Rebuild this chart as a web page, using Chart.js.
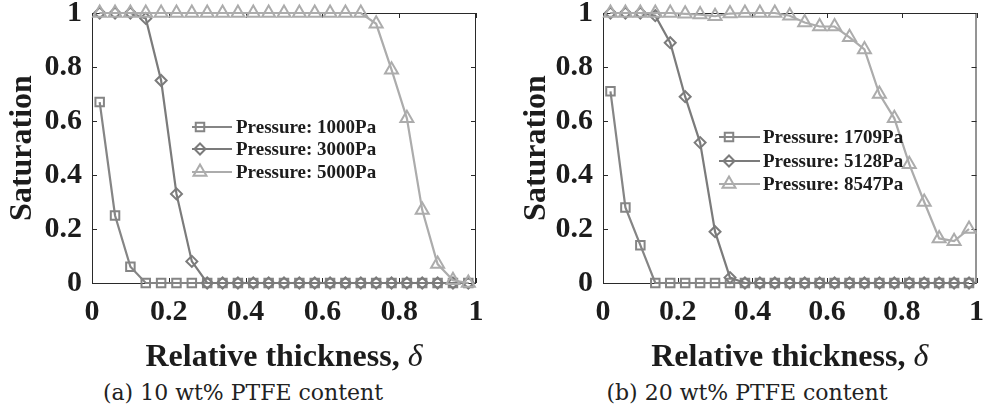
<!DOCTYPE html>
<html>
<head>
<meta charset="utf-8">
<script src="https://cdn.jsdelivr.net/npm/chart.js@4.4.0/dist/chart.umd.min.js"></script>
<style>
body { margin: 0; background: #fff; width: 995px; height: 415px; position: relative; overflow: hidden; }
.panel { position: absolute; top: 0; height: 375px; }
#leftBox { left: 0; width: 497px; }
#rightBox { left: 497px; width: 498px; }
.cap { position: absolute; top: 380px; font-family: "DejaVu Serif"; font-size: 22px; color: #222; white-space: nowrap; transform: translateX(-50%); }
</style>
</head>
<body>
<div class="panel" id="leftBox"><canvas id="chartA" width="497" height="375"></canvas></div>
<div class="panel" id="rightBox"><canvas id="chartB" width="498" height="375"></canvas></div>
<div class="cap" style="left:243px">(a) 10 wt% PTFE content</div>
<div class="cap" style="left:747px">(b) 20 wt% PTFE content</div>
<script>
// relative thickness positions (same for both panels)
const xValues = [0.02, 0.06, 0.10, 0.14, 0.18, 0.22, 0.26, 0.30, 0.34, 0.38, 0.42, 0.46, 0.50,
                 0.54, 0.58, 0.62, 0.66, 0.70, 0.74, 0.78, 0.82, 0.86, 0.90, 0.94, 0.98];
const xTicks = [0, 0.2, 0.4, 0.6, 0.8, 1];
const xTickLabels = ['0', '0.2', '0.4', '0.6', '0.8', '1'];
const yTicks = [0, 0.2, 0.4, 0.6, 0.8, 1];
const yTickLabels = ['0', '0.2', '0.4', '0.6', '0.8', '1'];

// (a) 10 wt% PTFE
const namesA = ['Pressure: 1000Pa', 'Pressure: 3000Pa', 'Pressure: 5000Pa'];
const p1000 = [0.67, 0.25, 0.06, 0, 0, 0, 0, 0, 0, 0, 0, 0, 0, 0, 0, 0, 0, 0, 0, 0, 0, 0, 0, 0, 0];
const p3000 = [1, 1, 1, 0.98, 0.75, 0.33, 0.08, 0, 0, 0, 0, 0, 0, 0, 0, 0, 0, 0, 0, 0, 0, 0, 0, 0, 0];
const p5000 = [1, 1, 1, 1, 1, 1, 1, 1, 1, 1, 1, 1, 1, 1, 1, 1, 1, 1, 0.96, 0.79, 0.61, 0.27, 0.07, 0.01, 0];

// (b) 20 wt% PTFE
const namesB = ['Pressure: 1709Pa', 'Pressure: 5128Pa', 'Pressure: 8547Pa'];
const p1709 = [0.71, 0.28, 0.14, 0, 0, 0, 0, 0, 0, 0, 0, 0, 0, 0, 0, 0, 0, 0, 0, 0, 0, 0, 0, 0, 0];
const p5128 = [1, 1, 1, 0.99, 0.89, 0.69, 0.52, 0.19, 0.02, 0, 0, 0, 0, 0, 0, 0, 0, 0, 0, 0, 0, 0, 0, 0, 0];
const p8547 = [1, 1, 1, 1, 1, 0.997, 0.994, 0.988, 0.998, 1, 1, 1, 0.99, 0.965, 0.95, 0.95, 0.91, 0.865,
               0.70, 0.61, 0.44, 0.30, 0.165, 0.155, 0.20];

const colors = ['#858585', '#7b7b7b', '#acacac'];
const shapes = ['rect', 'rectRot', 'triangle'];
const radii = [6, 5.5, 7.5];
const serif = 'Liberation Serif';
const ink = '#1c1c1c';

function toPoints(ys) {
    return ys.map((y, i) => ({ x: xValues[i], y: y }));
}

// box with inward ticks, like the matlab axes
const framePlugin = {
    id: 'frame',
    beforeDatasetsDraw(chart) {
        const a = chart.chartArea, ctx = chart.ctx;
        const xs = chart.scales.x, ys = chart.scales.y;
        ctx.save();
        ctx.strokeStyle = '#2a2a2a';
        ctx.lineWidth = 1;
        ctx.strokeRect(a.left + 0.5, a.top + 0.5, a.right - a.left - 1, a.bottom - a.top);
        ctx.beginPath();
        xTicks.forEach(v => {
            const px = Math.round(xs.getPixelForValue(v)) + 0.5;
            ctx.moveTo(px, a.bottom); ctx.lineTo(px, a.bottom - 5);
            ctx.moveTo(px, a.top); ctx.lineTo(px, a.top + 5);
        });
        yTicks.forEach(v => {
            const py = Math.round(ys.getPixelForValue(v)) + 0.5;
            ctx.moveTo(a.left, py); ctx.lineTo(a.left + 5, py);
            ctx.moveTo(a.right, py); ctx.lineTo(a.right - 5, py);
        });
        ctx.stroke();
        ctx.restore();
    }
};

// legend inside the plot + x title with italic delta
const extrasPlugin = {
    id: 'extras',
    afterDraw(chart, args, opts) {
        const ctx = chart.ctx, a = chart.chartArea;
        ctx.save();
        chart.data.datasets.forEach((ds, i) => {
            const y = opts.rows[i];
            ctx.strokeStyle = ds.borderColor;
            ctx.lineWidth = 2.2;
            ctx.beginPath();
            ctx.moveTo(opts.line[0], y); ctx.lineTo(opts.line[1], y);
            ctx.stroke();
            ctx.fillStyle = 'rgba(0,0,0,0)';
            ctx.lineWidth = 2;
            Chart.helpers.drawPoint(ctx, { pointStyle: ds.pointStyle, radius: ds.pointRadius, borderWidth: 2 }, opts.marker, y);
            ctx.fillStyle = ink;
            ctx.font = 'bold 19px "' + serif + '"';
            ctx.textAlign = 'left';
            ctx.textBaseline = 'middle';
            ctx.fillText(ds.label, opts.text, y + 1);
        });

        const t1 = 'Relative thickness, ';
        const t2 = 'δ';
        const f1 = 'bold 32px "' + serif + '"';
        const f2 = 'italic 32px "' + serif + '"';
        ctx.font = f1; const w1 = ctx.measureText(t1).width;
        ctx.font = f2; const w2 = ctx.measureText(t2).width;
        const cx = (a.left + a.right) / 2;
        const x0 = cx - (w1 + w2) / 2;
        ctx.fillStyle = ink;
        ctx.textAlign = 'left';
        ctx.textBaseline = 'alphabetic';
        ctx.font = f1; ctx.fillText(t1, x0, 366);
        ctx.font = f2; ctx.fillText(t2, x0 + w1, 366);
        ctx.restore();
    }
};

function makeChart(id, series, names, yWidth, titlePad, rightPad, legendOpts) {
    const datasets = series.map((ys, i) => ({
        label: names[i],
        data: toPoints(ys),
        borderColor: colors[i],
        backgroundColor: 'transparent',
        pointBackgroundColor: 'transparent',
        pointBorderColor: colors[i],
        pointStyle: shapes[i],
        pointRadius: radii[i],
        pointBorderWidth: 2,
        borderWidth: 2.2,
        order: 3 - i,
        clip: false
    }));

    return new Chart(document.getElementById(id).getContext('2d'), {
        type: 'line',
        data: { datasets: datasets },
        options: {
            responsive: false,
            animation: false,
            layout: { padding: { top: 13, right: rightPad, left: 0, bottom: 0 } },
            plugins: {
                legend: { display: false },
                tooltip: { enabled: false },
                extras: legendOpts
            },
            scales: {
                x: {
                    type: 'linear', min: 0, max: 1,
                    afterBuildTicks: s => { s.ticks = xTicks.map(v => ({ value: v })); },
                    afterFit: s => { s.height = 92; },
                    grid: { display: false, drawTicks: false },
                    border: { display: false },
                    ticks: {
                        autoSkip: false, maxRotation: 0, padding: 11, color: ink,
                        font: { family: serif, size: 30, weight: 'bold' },
                        callback: (v, i) => xTickLabels[i]
                    }
                },
                y: {
                    type: 'linear', min: 0, max: 1,
                    afterBuildTicks: s => { s.ticks = yTicks.map(v => ({ value: v })); },
                    afterFit: s => { s.width = yWidth; s.paddingTop = 0; s.paddingBottom = 0; },
                    grid: { display: false, drawTicks: false },
                    border: { display: false },
                    ticks: {
                        padding: 10, color: ink,
                        font: { family: serif, size: 30, weight: 'bold', lineHeight: 0.1 },
                        callback: (v, i) => yTickLabels[i]
                    },
                    title: {
                        display: true, text: 'Saturation', color: ink,
                        font: { family: serif, size: 32, weight: 'bold' },
                        padding: { top: titlePad, bottom: 0 }
                    }
                }
            }
        },
        plugins: [framePlugin, extrasPlugin]
    });
}

makeChart('chartA', [p1000, p3000, p5000], namesA, 92, 4, 21,
    { line: [192, 232], marker: 200, text: 236, rows: [127, 149, 172] });
makeChart('chartB', [p1709, p5128, p8547], namesB, 106, 21, 8,
    { line: [222, 263], marker: 232, text: 266, rows: [137, 161, 184] });
</script>
</body>
</html>
